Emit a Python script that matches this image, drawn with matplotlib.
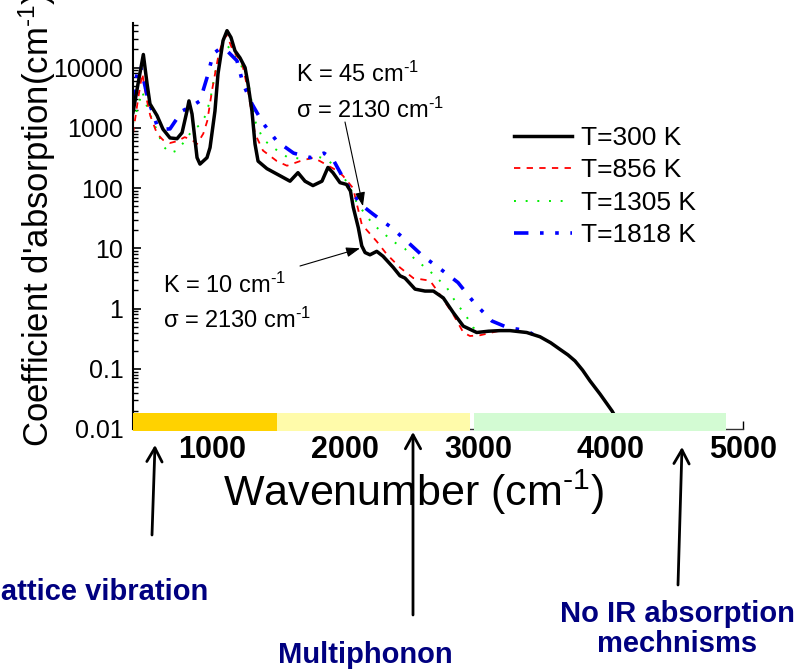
import matplotlib
matplotlib.use("Agg")
import matplotlib.pyplot as plt
from matplotlib.patches import Rectangle, FancyArrowPatch
from matplotlib.ticker import LogLocator, NullFormatter, FixedLocator, FixedFormatter

# ---------------------------------------------------------------------------
# Absorption spectra (wavenumber in cm^-1, absorption coefficient in cm^-1)
# ---------------------------------------------------------------------------
wn_300 = [400, 438, 478, 506, 528, 581, 626, 679, 732, 770, 807, 822, 845, 883,
          905, 958, 981, 1018, 1041, 1079, 1109, 1139, 1169, 1207, 1245, 1267,
          1297, 1320, 1343, 1410, 1509, 1584, 1644, 1697, 1757, 1825, 1870, 1908,
          1961, 2010, 2040, 2061, 2099, 2125, 2150, 2187, 2238, 2285, 2363, 2413,
          2451, 2527, 2602, 2665, 2740, 2816, 2891, 2992, 3080, 3168, 3243, 3369,
          3469, 3550, 3620, 3680, 3733, 3790, 3846, 3922, 4012, 4080]
k_300 = [1800, 5400, 16500, 5400, 2500, 1600, 950, 680, 660, 830, 1900, 2800,
         1700, 320, 250, 320, 470, 1900, 7900, 28000, 41000, 31600, 19000, 14500,
         10000, 5400, 1900, 540, 280, 210, 160, 130, 180, 130, 110, 130, 220, 180,
         123, 115, 89, 48, 22, 11, 8.5, 7.8, 8.9, 7.4, 4.8, 3.5, 3.2, 2.1, 1.95,
         1.95, 1.5, 0.85, 0.51, 0.40, 0.42, 0.43, 0.43, 0.40, 0.34, 0.27, 0.21,
         0.17, 0.135, 0.095, 0.063, 0.038, 0.020, 0.011]

wn_856 = [400, 440, 470, 500, 530, 581, 626, 679, 732, 790, 845, 883, 930, 960,
          1000, 1041, 1079, 1109, 1154, 1222, 1267, 1320, 1380, 1485, 1561, 1660,
          1757, 1810, 1938, 1983, 2059, 2125, 2238, 2313, 2413, 2514, 2640, 2715,
          2813, 2891, 2941, 3017, 3168, 3300]
k_856 = [800, 3200, 8000, 3200, 1600, 800, 630, 560, 600, 700, 630, 540, 800,
         1300, 4700, 14500, 30000, 34000, 19000, 12000, 4200, 800, 420, 280, 235,
         280, 320, 280, 195, 160, 100, 25, 13, 8.0, 4.8, 3.2, 2.9, 1.7, 0.81,
         0.40, 0.35, 0.36, 0.43, 0.42]

wn_1305 = [400, 470, 510, 550, 581, 626, 679, 732, 790, 845, 900, 940, 981, 1018,
           1060, 1100, 1150, 1207, 1267, 1320, 1380, 1450, 1560, 1700, 1800, 1870,
           1950, 2030, 2089, 2210, 2361, 2451, 2514, 2665, 2768, 2851, 2891, 2966,
           3050, 3200, 3300]
k_1305 = [1200, 4000, 2100, 1300, 900, 500, 380, 420, 600, 900, 1100, 1500, 2800,
          7900, 20000, 25000, 18000, 12000, 6000, 1300, 650, 480, 330, 300, 330,
          290, 200, 110, 56, 25, 13, 9.8, 7.0, 3.7, 2.2, 1.1, 0.90, 0.48, 0.42,
          0.43, 0.42]

wn_1818 = [400, 430, 455, 490, 513, 581, 640, 679, 770, 845, 905, 958, 1005,
           1060, 1109, 1184, 1230, 1297, 1380, 1485, 1611, 1740, 1840, 1908, 1983,
           2059, 2134, 2210, 2338, 2436, 2587, 2738, 2851, 2979, 3107, 3228, 3371,
           3409, 3480]
k_1818 = [2500, 8000, 11000, 5000, 3000, 1100, 950, 960, 1900, 2300, 2800, 6800,
          17000, 21000, 19000, 13000, 5400, 2500, 1200, 600, 380, 320, 380, 300,
          150, 80, 50, 37, 23, 15, 7.4, 4.2, 2.7, 1.2, 0.62, 0.48, 0.43, 0.38, 0.36]

series_labels = ["T=300 K", "T=856 K", "T=1305 K", "T=1818 K"]

# Spectral regions shaded along the bottom of the plot
region_edges = [(400, 1486), (1486, 2941), (2971, 4872)]
region_colors = ["#FFD200", "#FFFBAA", "#D3FBD3"]

x_ticks = [1000, 2000, 3000, 4000, 5000]
y_ticks = [0.01, 0.1, 1, 10, 100, 1000, 10000]
y_tick_labels = ["0.01", "0.1", "1", "10", "100", "1000", "10000"]

# ---------------------------------------------------------------------------
W, H, DPI = 801, 669, 100
plt.rcParams['font.family'] = ['Liberation Sans', 'DejaVu Sans']
plt.rcParams['mathtext.fontset'] = 'custom'
plt.rcParams['mathtext.rm'] = 'Liberation Sans'
plt.rcParams['mathtext.it'] = 'Liberation Sans:italic'
plt.rcParams['mathtext.bf'] = 'Liberation Sans:bold'

fig = plt.figure(figsize=(W / DPI, H / DPI), dpi=DPI)

INV_CM = r"cm$^{\text{-}1}$"


def fx(px):
    return px / W


def fy(py):
    return 1 - py / H


ax = fig.add_axes([fx(133), fy(429), fx(743) - fx(133), fy(23) - fy(429)])
ax.set_yscale('log')
ax.set_xlim(400, 5000)
ax.set_ylim(0.01, 5.5e4)

ax.plot(wn_1305, k_1305, color='#00EE00', lw=1.4, ls=(0, (1, 5)),
        label=series_labels[2], zorder=2.0)
ax.plot(wn_856, k_856, color='#FF0000', lw=1.3, ls=(0, (3.5, 3.5)),
        label=series_labels[1], zorder=2.1)
ax.plot(wn_1818, k_1818, color='#0000FF', lw=2.6,
        ls=(0, (4, 3.2, 1, 3.2, 1, 3.2)), label=series_labels[3], zorder=2.2)
ax.plot(wn_300, k_300, color='black', lw=2.5, label=series_labels[0],
        zorder=2.5, solid_joinstyle='round')

for (x0, x1), c in zip(region_edges, region_colors):
    ax.add_patch(Rectangle((x0, 0.0093), x1 - x0, 0.0185 - 0.0093,
                           facecolor=c, edgecolor='none', zorder=3,
                           clip_on=False))

for side in ('top', 'right'):
    ax.spines[side].set_visible(False)
ax.spines['left'].set_linewidth(1.5)
ax.spines['bottom'].set_linewidth(1.0)
ax.spines['bottom'].set_color('#333333')

ax.yaxis.set_major_locator(FixedLocator(y_ticks))
ax.yaxis.set_major_formatter(FixedFormatter(y_tick_labels))
ax.yaxis.set_minor_locator(LogLocator(base=10, subs=range(2, 10), numticks=20))
ax.yaxis.set_minor_formatter(NullFormatter())
ax.tick_params(axis='y', which='major', direction='in', length=6, width=1.2,
               labelsize=18, pad=7)
ax.tick_params(axis='y', which='minor', direction='in', length=3.5, width=1.0)

ax.xaxis.set_major_locator(FixedLocator(x_ticks))
ax.tick_params(axis='x', which='major', direction='in', length=6, width=1.0,
               labelsize=22, pad=4)
for lab in ax.get_xticklabels():
    lab.set_fontweight('bold')

leg = ax.legend(handles=[ax.lines[3], ax.lines[1], ax.lines[0], ax.lines[2]],
                loc='upper left', bbox_to_anchor=(fx(514), fy(126)),
                bbox_transform=fig.transFigure, frameon=False, fontsize=19,
                handlelength=2.2, handletextpad=0.35, labelspacing=0.32,
                borderpad=0, borderaxespad=0)

# Axis titles
fig.text(fx(414), fy(492), "Wavenumber (" + INV_CM + ")", fontsize=31,
         ha='center', va='center')
fig.text(fx(37), fy(447), "Coefficient d'absorption(" + INV_CM + ")",
         fontsize=25, rotation=90, ha='center', va='bottom')

# Fit-parameter annotations
fig.text(fx(296), fy(82), "K = 45 " + INV_CM, fontsize=17, ha='left',
         va='baseline')
fig.text(fx(296), fy(118), "\u03c3 = 2130 " + INV_CM, fontsize=17, ha='left',
         va='baseline')
fig.text(fx(163), fy(293), "K = 10 " + INV_CM, fontsize=17, ha='left',
         va='baseline')
fig.text(fx(163), fy(328), "\u03c3 = 2130 " + INV_CM, fontsize=17, ha='left',
         va='baseline')

ax.annotate("", xy=(2134, 50), xycoords='data',
            xytext=(fx(345), fy(122)), textcoords='figure fraction',
            arrowprops=dict(arrowstyle='-|>,head_length=0.7,head_width=0.25',
                            color='black', lw=0.8, mutation_scale=12,
                            shrinkA=0, shrinkB=0))
ax.annotate("", xy=(2112, 10), xycoords='data',
            xytext=(fx(300), fy(266)), textcoords='figure fraction',
            arrowprops=dict(arrowstyle='-|>,head_length=0.7,head_width=0.25',
                            color='black', lw=0.8, mutation_scale=12,
                            shrinkA=0, shrinkB=0))

# Region pointers below the axis
pointers = [((152, 535), (155, 445)), ((413, 615), (413, 432)),
            ((678, 585), (682, 447))]
for (x0, y0), (x1, y1) in pointers:
    fig.add_artist(FancyArrowPatch((fx(x0), fy(y0)), (fx(x1), fy(y1)),
                                   transform=fig.transFigure,
                                   arrowstyle='->,head_length=1.0,head_width=0.55',
                                   mutation_scale=10, lw=2.0, color='black',
                                   shrinkA=0, shrinkB=0))

navy = '#000080'
fig.text(fx(208), fy(600), "Lattice vibration", fontsize=21, fontweight='bold',
         color=navy, ha='right', va='baseline')
fig.text(fx(365), fy(663), "Multiphonon", fontsize=21, fontweight='bold',
         color=navy, ha='center', va='baseline')
fig.text(fx(677), fy(622), "No IR absorption", fontsize=21, fontweight='bold',
         color=navy, ha='center', va='baseline')
fig.text(fx(677), fy(652), "mechnisms", fontsize=21, fontweight='bold',
         color=navy, ha='center', va='baseline')

fig.savefig("out.png", dpi=DPI)
